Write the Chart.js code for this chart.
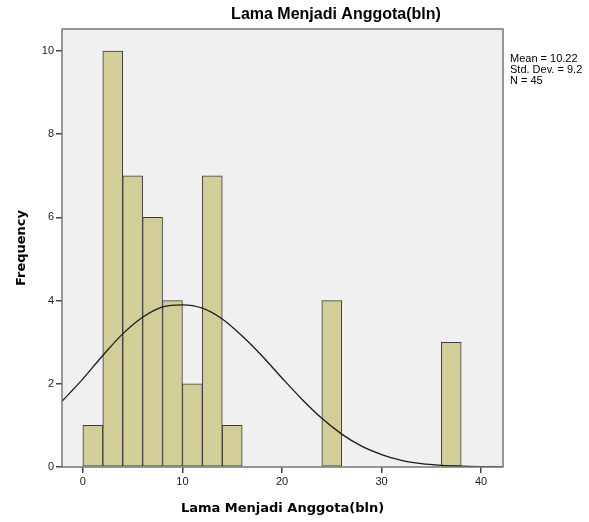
<!DOCTYPE html>
<html>
<head>
  <meta charset="utf-8">
  <title>Lama Menjadi Anggota(bln)</title>
  <script src="https://cdn.jsdelivr.net/npm/chart.js@4.4.1/dist/chart.umd.min.js"></script>
  <style>
    body { margin: 0; background: #fff; }
  </style>
</head>
<body>
  <canvas id="hist" width="589" height="522"></canvas>

  <script>
    // histogram bins (width 2), centre of each non-empty bin
    const binCenters = [1, 3, 5, 7, 9, 11, 13, 15, 25, 37];
    const frequencies = [1, 10, 7, 6, 4, 2, 7, 1, 4, 3];

    // normal curve
    const curveX = [-2.1, 0, 2, 4, 6, 8, 10, 12, 14, 16, 18, 20, 22, 24, 26, 28, 30, 32, 34, 36, 38, 40, 42.2];
    const curveY = [1.58, 2.12, 2.68, 3.2, 3.6, 3.85, 3.9, 3.82, 3.56, 3.15, 2.67, 2.14, 1.63, 1.17, 0.79, 0.5, 0.3, 0.16, 0.08, 0.04, 0.02, 0.01, 0.004];

    const stats = ['Mean = 10.22', 'Std. Dev. = 9.2', 'N = 45'];
    const titleText = 'Lama Menjadi Anggota(bln)';

    const frame = {
      id: 'frame',
      beforeDatasetsDraw(chart) {
        const { ctx, chartArea: a } = chart;
        ctx.save();
        ctx.fillStyle = '#f0f0f0';
        ctx.fillRect(a.left, a.top, a.right - a.left, a.bottom - a.top);
        ctx.restore();
      },
      afterDraw(chart) {
        const { ctx, chartArea: a } = chart;
        ctx.save();
        ctx.strokeStyle = '#777';
        ctx.lineWidth = 1.5;
        ctx.strokeRect(a.left, a.top, a.right - a.left, a.bottom - a.top);
        ctx.fillStyle = '#000';
        ctx.font = 'bold 16px "Liberation Sans", Arial, sans-serif';
        ctx.textAlign = 'center';
        ctx.textBaseline = 'middle';
        ctx.fillText(titleText, 336, 15);
        ctx.font = '11px "Liberation Sans", Arial, sans-serif';
        ctx.textAlign = 'left';
        stats.forEach((s, i) => ctx.fillText(s, 510, 59 + i * 11));
        ctx.restore();
      }
    };

    new Chart(document.getElementById('hist'), {
      type: 'bar',
      data: {
        datasets: [{
          type: 'line',
          data: curveX.map((x, i) => ({ x: x, y: curveY[i] })),
          borderColor: '#1a1a1a',
          borderWidth: 1.3,
          pointRadius: 0,
          tension: 0.4,
          cubicInterpolationMode: 'monotone',
          fill: false
        }, {
          type: 'bar',
          data: binCenters.map((x, i) => ({ x: x, y: frequencies[i] })),
          backgroundColor: '#d3ce97',
          borderColor: '#3c3c3c',
          borderWidth: 1,
          borderSkipped: false,
          barPercentage: 1,
          categoryPercentage: 1
        }]
      },
      options: {
        responsive: false,
        animation: false,
        layout: { padding: { top: 29, right: 86, left: 0, bottom: 0 } },
        plugins: { legend: { display: false }, tooltip: { enabled: false } },
        scales: {
          x: {
            type: 'linear',
            min: -2.1,
            max: 42.2,
            offset: false,
            afterFit(scale) { scale.height = 55; },
            ticks: {
              stepSize: 10,
              includeBounds: false,
              color: '#222',
              padding: 2,
              font: { family: '"Liberation Sans", Arial, sans-serif', size: 11 }
            },
            grid: { drawOnChartArea: false, offset: false, tickLength: 6, color: '#444', lineWidth: 1.5 },
            border: { display: false },
            title: {
              display: true,
              text: 'Lama Menjadi Anggota(bln)',
              color: '#000',
              padding: { top: 0, bottom: 6 },
              font: { family: '"DejaVu Sans", Verdana, sans-serif', size: 13, weight: 'bold' }
            }
          },
          y: {
            min: 0,
            max: 10.53,
            afterFit(scale) { scale.width = 62; },
            ticks: {
              stepSize: 2,
              includeBounds: false,
              color: '#222',
              padding: 2,
              font: { family: '"Liberation Sans", Arial, sans-serif', size: 11 }
            },
            grid: { drawOnChartArea: false, tickLength: 6, color: '#444', lineWidth: 1.5 },
            border: { display: false },
            title: {
              display: true,
              text: 'Frequency',
              color: '#000',
              padding: { top: 14, bottom: 0 },
              font: { family: '"DejaVu Sans", Verdana, sans-serif', size: 13, weight: 'bold' }
            }
          }
        }
      },
      plugins: [frame]
    });
  </script>
</body>
</html>
